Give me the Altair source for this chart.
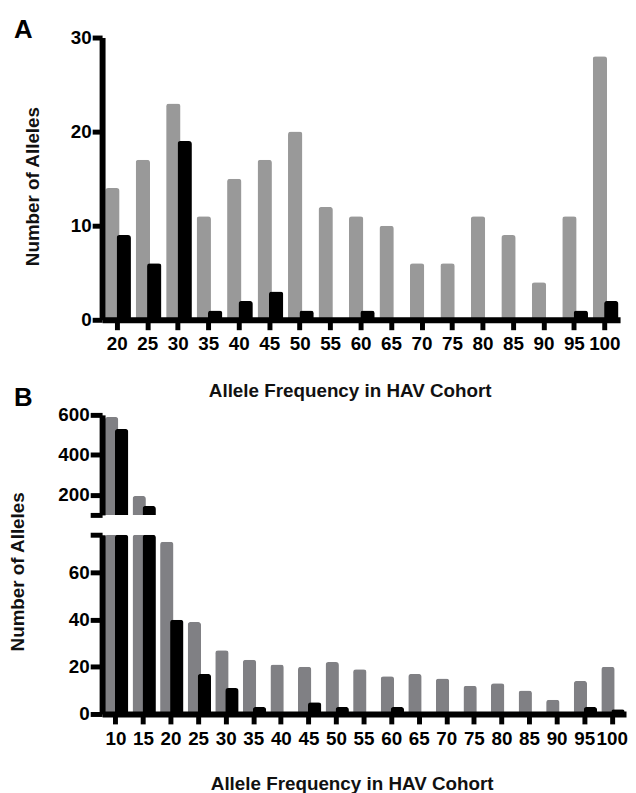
import altair as alt
import pandas as pd

FONT = "Liberation Sans"

# Panel A data
freq_a = [20, 25, 30, 35, 40, 45, 50, 55, 60, 65, 70, 75, 80, 85, 90, 95, 100]
gray_a = [14, 17, 23, 11, 15, 17, 20, 12, 11, 10, 6, 6, 11, 9, 4, 11, 28]
black_a = [9, 6, 19, 1, 2, 3, 1, 0, 1, 0, 0, 0, 0, 0, 0, 1, 2]

# Panel B data
freq_b = [10, 15, 20, 25, 30, 35, 40, 45, 50, 55, 60, 65, 70, 75, 80, 85, 90, 95, 100]
gray_b = [590, 195, 73, 39, 27, 23, 21, 20, 22, 19, 16, 17, 15, 12, 13, 10, 6, 14, 20]
black_b = [530, 145, 40, 17, 11, 3, 0, 5, 3, 0, 3, 0, 0, 0, 0, 0, 0, 3, 2]

x_title = "Allele Frequency in HAV Cohort"
y_title = "Number of Alleles"

GRAY_A = "#999999"
GRAY_B = "#808084"
BLACK = "#000000"

df_a = pd.DataFrame({"freq": [str(f) for f in freq_a], "gray": gray_a, "black": black_a})
df_b = pd.DataFrame({"freq": [str(f) for f in freq_b], "gray": gray_b, "black": black_b})


def x_enc(order, axis):
    return alt.X("freq:N", sort=order,
                 scale=alt.Scale(paddingInner=0, paddingOuter=0),
                 axis=axis)


def bars(df, order, axis, y_scale, y_axis, gray_color, w, off_g, off_b, top=None):
    base = alt.Chart(df)
    layers = []
    for field, color, off in (("gray", gray_color, off_g), ("black", BLACK, off_b)):
        if top is None:
            rad = 3
        else:
            rad = alt.expr(f"datum.{field} > {top} ? 0 : 3")
        layers.append(
            base.mark_bar(width=w, xOffset=off, color=color,
                          cornerRadiusTopLeft=rad, cornerRadiusTopRight=rad).encode(
                x=x_enc(order, axis),
                y=alt.Y(f"{field}:Q", scale=y_scale, axis=y_axis),
            )
        )
    return alt.layer(*layers)


common_axis = dict(domainColor="black", domainWidth=6, tickColor="black", tickWidth=5,
                   labelFont=FONT, labelFontWeight="bold", labelFontSize=19, labelColor="black",
                   titleFont=FONT, titleFontWeight="bold", titleFontSize=19, titleColor="#111111",
                   grid=False, zindex=1, labelOverlap=False, labelBound=False, labelFlush=False)

order_a = [str(f) for f in freq_a]
order_b = [str(f) for f in freq_b]

# Panel A
xa_axis = alt.Axis(title=x_title, labelAngle=0, tickSize=10, labelPadding=5,
                   titlePadding=28, titleX=250, titleAlign="center", **common_axis)
ya_axis = alt.Axis(title=y_title, values=[0, 10, 20, 30], tickSize=10, labelPadding=1,
                   titlePadding=28, titleY=150, **common_axis)
panel_a = bars(df_a, order_a, xa_axis, alt.Scale(domain=[0, 30]), ya_axis,
               GRAY_A, 14.5, -5, 6.5).properties(
    width=523, height=285,
    title=alt.TitleParams(text="A", anchor="start", frame="group", dx=-89, dy=35, offset=0,
                          baseline="alphabetic", fontSize=26, font=FONT, fontWeight="bold",
                          color="black"),
)

# Panel B upper
yb_up_axis = alt.Axis(title=None, values=[100, 200, 400, 600], tickSize=12, labelPadding=1,
                      labelExpr="datum.value == 100 ? '' : datum.label", **common_axis)
panel_b_up = bars(df_b, order_b, None, alt.Scale(domain=[100, 600], zero=False, clamp=True),
                  yb_up_axis, GRAY_B, 13.5, -4.3, 5.8, top=600).properties(
    width=529, height=101,
    title=alt.TitleParams(text="B", anchor="start", frame="group", dx=-89, dy=26, offset=0,
                          baseline="alphabetic", fontSize=26, font=FONT, fontWeight="bold",
                          color="black"),
)

# Panel B lower
xb_axis = alt.Axis(title=x_title, labelAngle=0, tickSize=10, labelPadding=6,
                   titlePadding=26, titleX=252, titleAlign="center", **common_axis)
yb_lo_axis = alt.Axis(title=y_title, values=[0, 20, 40, 60, 76], tickSize=12, labelPadding=1,
                      labelExpr="datum.value == 76 ? '' : datum.label",
                      titlePadding=41, titleY=37, **common_axis)
panel_b_lo = bars(df_b, order_b, xb_axis, alt.Scale(domain=[0, 76], clamp=True), yb_lo_axis,
                  GRAY_B, 13.5, -4.3, 5.8, top=76).properties(width=529, height=181)

panel_b = alt.vconcat(panel_b_up, panel_b_lo, spacing=20, bounds="flush")

chart = alt.vconcat(panel_a, panel_b, spacing=96, bounds="flush").properties(
    padding={"left": 0, "top": 5, "right": 0, "bottom": 0}
).configure(background="white").configure_view(stroke=None)

chart.save("out.html", embed_options={"renderer": "svg", "actions": False})
